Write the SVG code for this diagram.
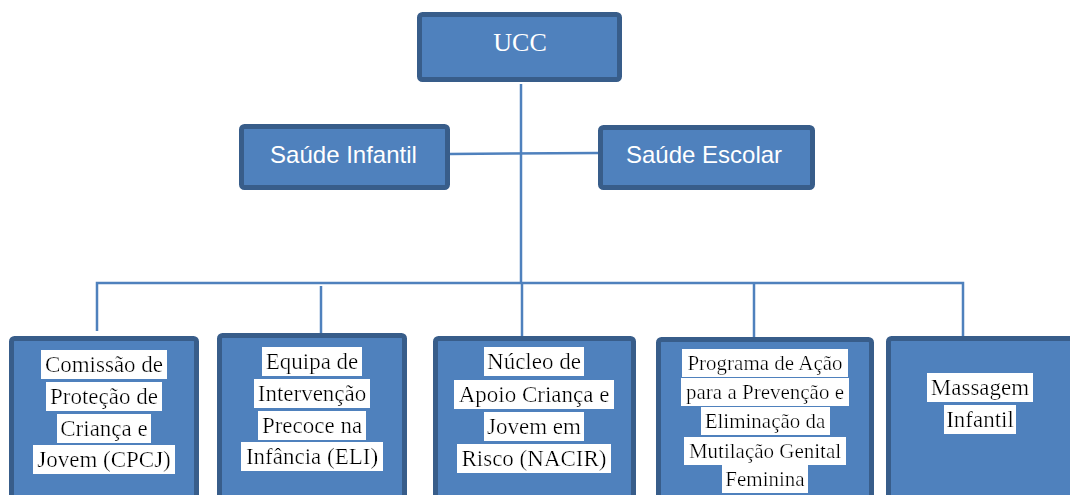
<svg xmlns="http://www.w3.org/2000/svg" width="1070" height="495" viewBox="0 0 1070 495">
  <defs>
    <filter id="hl" x="-0.03" y="-0.06" width="1.06" height="1.12">
      <feFlood flood-color="#ffffff"/>
      <feComposite in="SourceGraphic" operator="over"/>
    </filter>
  </defs>
  <style>
    .box { fill: #4F81BD; stroke: #385D8A; stroke-width: 5; }
    .conn { stroke: #4F81BD; stroke-width: 2.5; fill: none; }
    .top { font-family: "Liberation Serif", serif; font-size: 26px; fill: #ffffff; text-anchor: middle; }
    .mid { font-family: "Liberation Sans", Arial, sans-serif; font-size: 24px; fill: #ffffff; text-anchor: middle; }
    .lbl { font-family: "Liberation Serif", serif; font-size: 23px; fill: #000000; text-anchor: middle; filter: url(#hl); }
    .sm { font-size: 21px; }
  </style>
  <rect width="1070" height="495" fill="#ffffff"/>

  <g id="connectors">
    <line class="conn" x1="521" y1="84" x2="521" y2="283"/>
    <line class="conn" x1="450" y1="154" x2="598" y2="153"/>
    <polyline class="conn" points="97,331 97,283 963,283 963,336"/>
    <line class="conn" x1="321" y1="286" x2="321" y2="334"/>
    <line class="conn" x1="522" y1="283" x2="522" y2="337"/>
    <line class="conn" x1="754" y1="283" x2="754" y2="338"/>
  </g>

  <g id="ucc">
    <rect class="box" x="419.5" y="14.5" width="200" height="65" rx="3"/>
    <text class="top" x="520" y="51">UCC</text>
  </g>

  <g id="saude-infantil">
    <rect class="box" x="241.5" y="126.5" width="206" height="61" rx="3"/>
    <text class="mid" x="343.5" y="163">Saúde Infantil</text>
  </g>

  <g id="saude-escolar">
    <rect class="box" x="600.5" y="127.5" width="212" height="60" rx="3"/>
    <text class="mid" x="704" y="163">Saúde Escolar</text>
  </g>

  <g id="cpcj">
    <rect class="box" x="11.5" y="338.5" width="185" height="180" rx="3"/>
    <text class="lbl" x="104" y="372">Comissão de</text>
    <text class="lbl" x="104" y="404">Proteção de</text>
    <text class="lbl" x="104" y="436">Criança e</text>
    <text class="lbl" x="104" y="467">Jovem (CPCJ)</text>
  </g>

  <g id="eli">
    <rect class="box" x="219.5" y="335.5" width="185" height="180" rx="3"/>
    <text class="lbl" x="312" y="369">Equipa de</text>
    <text class="lbl" x="312" y="401">Intervenção</text>
    <text class="lbl" x="312" y="433">Precoce na</text>
    <text class="lbl" x="312" y="464">Infância (ELI)</text>
  </g>

  <g id="nacir">
    <rect class="box" x="435.5" y="338.5" width="198" height="180" rx="3"/>
    <text class="lbl" x="534" y="369">Núcleo de</text>
    <text class="lbl" x="534" y="402">Apoio Criança e</text>
    <text class="lbl" x="534" y="434">Jovem em</text>
    <text class="lbl" x="534" y="466">Risco (NACIR)</text>
  </g>

  <g id="mgf">
    <rect class="box" x="658.5" y="339.5" width="213" height="180" rx="3"/>
    <text class="lbl sm" x="765" y="370">Programa de Ação</text>
    <text class="lbl sm" x="765" y="399">para a Prevenção e</text>
    <text class="lbl sm" x="765" y="428">Eliminação da</text>
    <text class="lbl sm" x="765" y="458">Mutilação Genital</text>
    <text class="lbl sm" x="765" y="486">Feminina</text>
  </g>

  <g id="massagem">
    <rect class="box" x="888.5" y="338.5" width="200" height="180" rx="3"/>
    <text class="lbl" x="980" y="395">Massagem</text>
    <text class="lbl" x="980" y="427">Infantil</text>
  </g>
</svg>
